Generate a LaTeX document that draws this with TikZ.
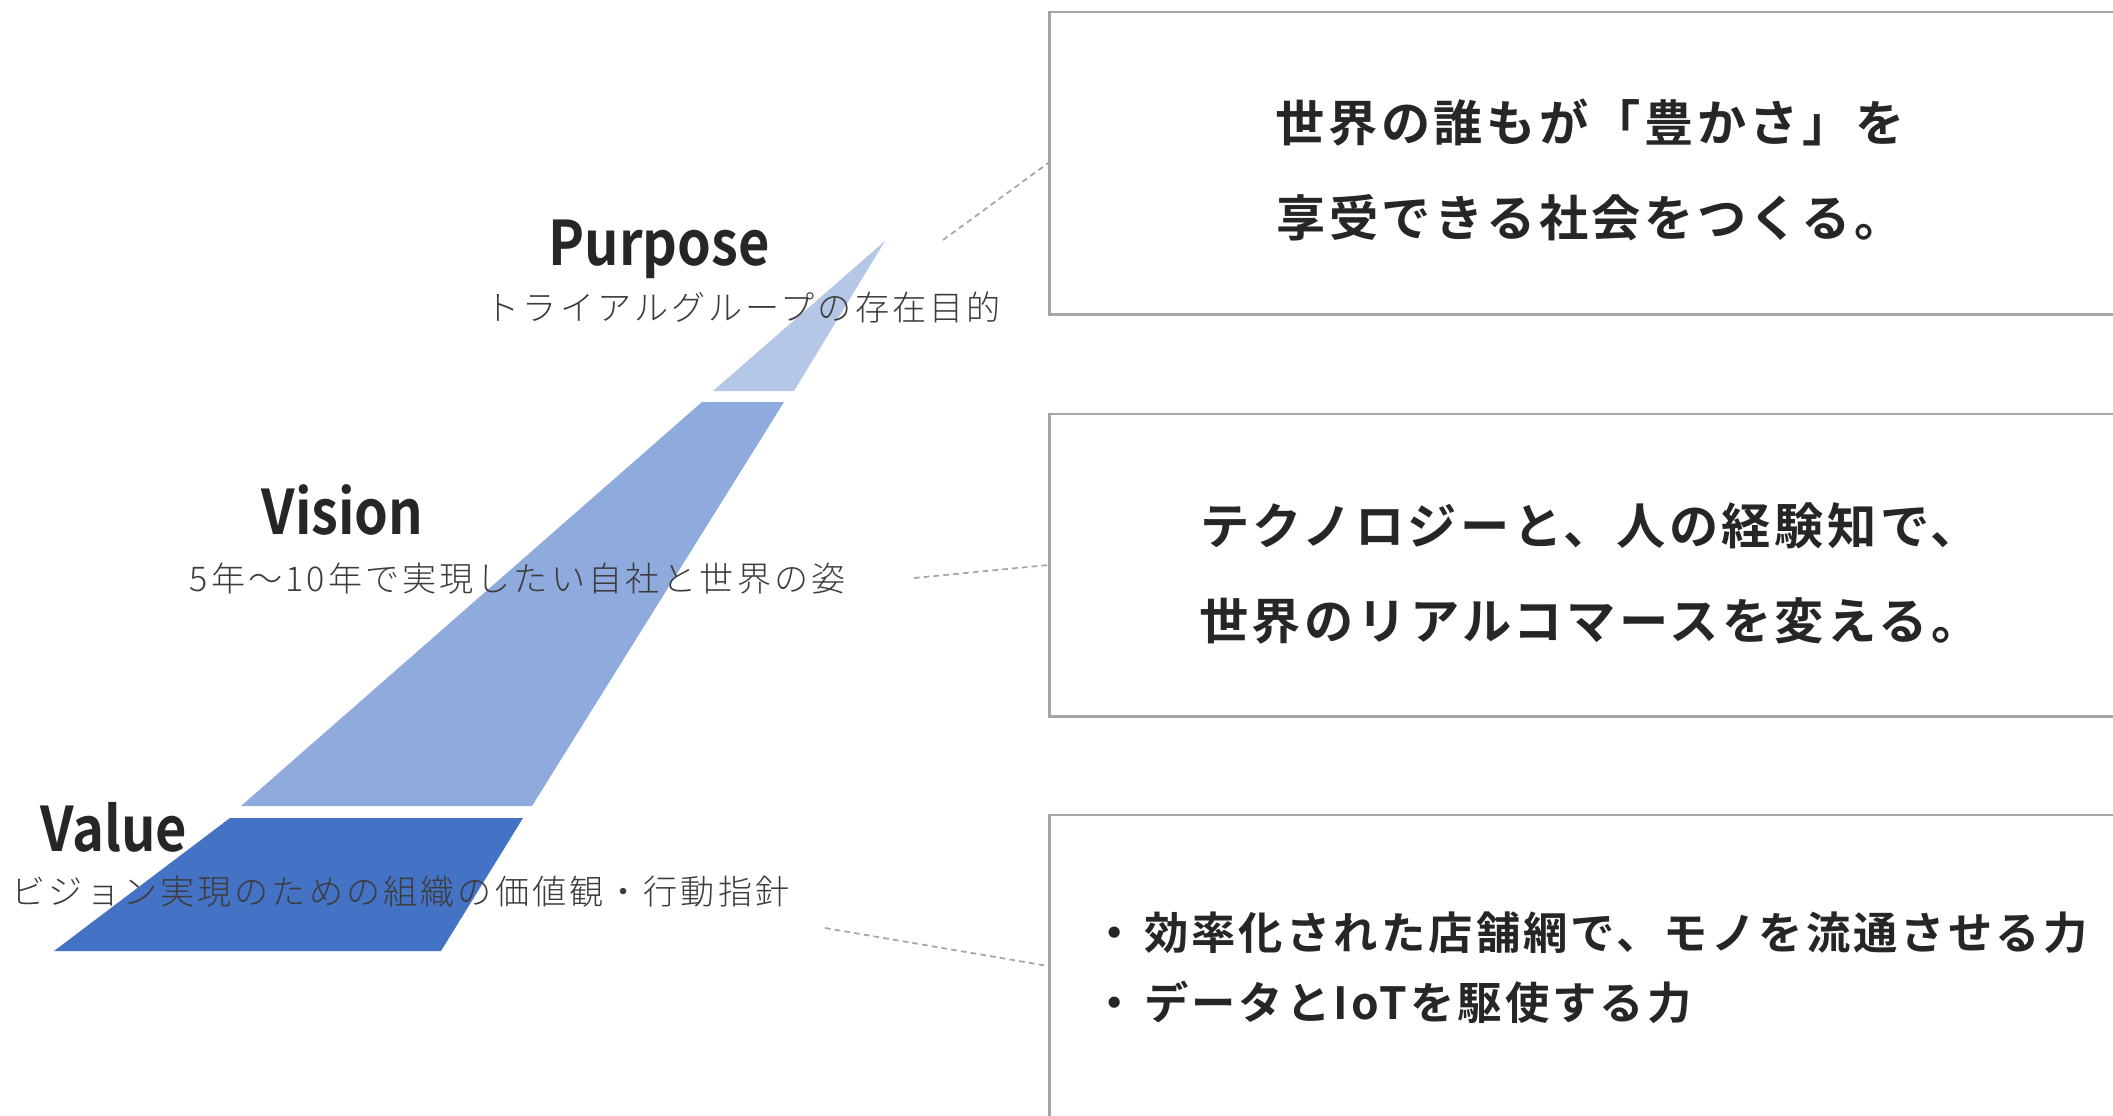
\documentclass[tikz,border=0pt]{standalone}
\usepackage{fontspec}
\setmainfont{Noto Sans CJK JP}
\newfontfamily\jpbold[LetterSpace=7]{Noto Sans CJK JP Bold}
\newfontfamily\jptitle[FakeStretch=0.88]{Noto Sans CJK JP Bold}
\newfontfamily\jplight[LetterSpace=9]{Noto Sans CJK JP Light}
\definecolor{purposeBlue}{HTML}{B4C7E7}
\definecolor{visionBlue}{HTML}{8FAADC}
\definecolor{valueBlue}{HTML}{4472C4}
\definecolor{boxGray}{HTML}{A6A6A6}
\definecolor{inkGray}{HTML}{262626}

\begin{document}
\begin{tikzpicture}
  [x=0.01cm, y=-0.01cm,
   msgBox/.style={draw=boxGray,line width=0.8pt,minimum width=10.8cm,minimum height=3.02cm,inner sep=0pt},
   msgText/.style={inner sep=0pt,text=inkGray,align=center,font=\jpbold\fontsize{14}{27}\selectfont},
   titleN/.style={anchor=west,inner sep=0pt,text=inkGray,font=\jptitle\fontsize{17.5}{20}\selectfont},
   subN/.style={anchor=west,inner sep=0pt,text=inkGray!90,font=\jplight\fontsize{9.7}{12}\selectfont},
   leader/.style={draw=boxGray,line width=0.5pt,dash pattern=on 1.6pt off 1.2pt}]

  \clip (0,0) rectangle (2113,1115);

  \fill[purposeBlue] (885,241) -- (794,391) -- (713,391) -- cycle;
  \fill[visionBlue] (702,402) -- (784,402) -- (532,806) -- (241,806) -- cycle;
  \fill[valueBlue] (230,818) -- (523,818) -- (441,951) -- (54,951) -- cycle;

  \node[titleN] (purposeT) at (548,249) {Purpose};
  \node[subN] (purposeS) at (485,307) {トライアルグループの存在目的};
  \node[titleN] (visionT) at (261,510) {Vision};
  \node[subN] (visionS) at (189,579) {5年〜10年で実現したい自社と世界の姿};
  \node[titleN] (valueT) at (40,827) {Value};
  \node[subN] (valueS) at (11,892) {ビジョン実現のための組織の価値観・行動指針};

  \node[msgBox] (purposeBox) at (1590,163) {};
  \node[msgBox] (visionBox) at (1590,565) {};
  \node[msgBox] (valueBox) at (1590,966) {};
  \node[msgText,yshift=-0.07cm] (purposeMsg) at (purposeBox.center) {世界の誰もが「豊かさ」を\\享受できる社会をつくる。};
  \node[msgText,yshift=-0.08cm] (visionMsg) at (visionBox.center) {テクノロジーと、人の経験知で、\\世界のリアルコマースを変える。};
  \node[msgText,align=left,font=\jpbold\fontsize{12.6}{19.9}\selectfont,yshift=-0.02cm] (valueMsg) at (valueBox.center)
    {・\,効率化された店舗網で、モノを流通させる力\\・\,データとIoTを駆使する力};

  \coordinate (purposeTail) at (943,240);
  \coordinate (visionTail) at (914,578);
  \coordinate (valueTail) at (825,928);
  \draw[leader] (purposeTail) -- (purposeBox.west);
  \draw[leader] (visionTail) -- (visionBox.west);
  \draw[leader] (valueTail) -- (valueBox.west);
\end{tikzpicture}
\end{document}
